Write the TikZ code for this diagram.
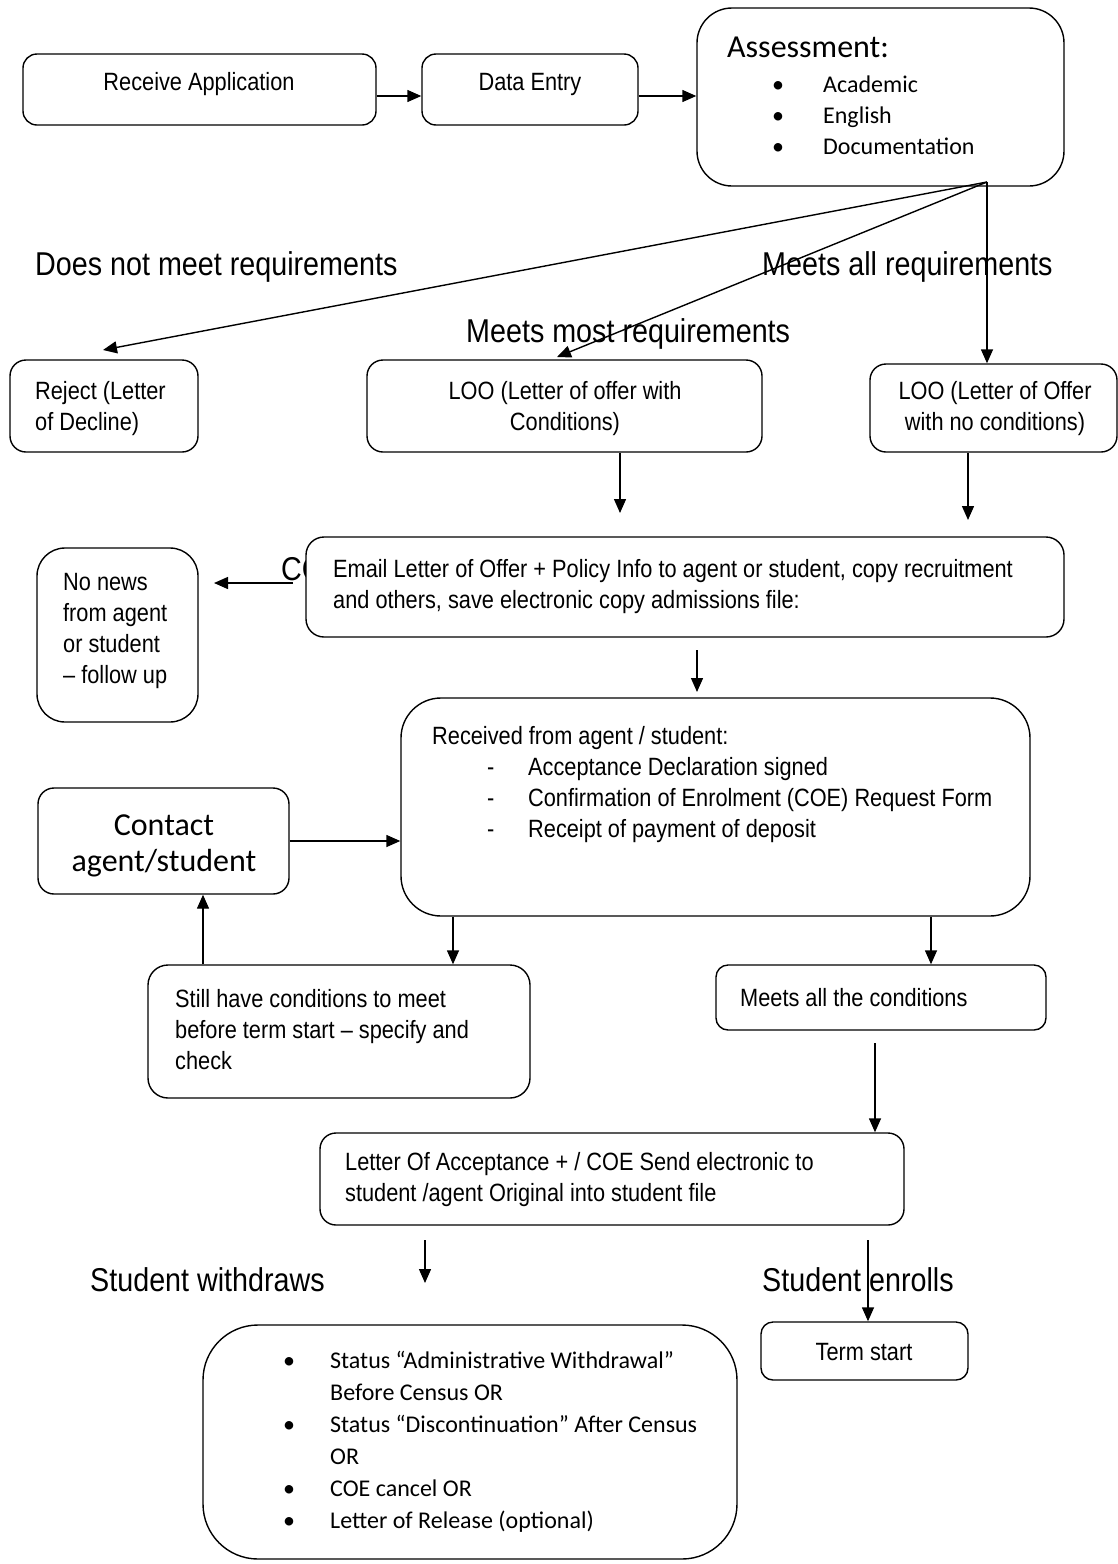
\documentclass[tikz,border=0pt]{standalone}
\usepackage{fontspec}
\setmainfont{Liberation Sans}
\newfontfamily\arialn[FakeStretch=0.87]{Liberation Sans}
\newfontfamily\calib{Carlito}
\usetikzlibrary{arrows.meta}
\newcommand\mybox[6]{\node[box, rounded corners=#6, minimum width={#4-#2}, minimum height={#5-#3}] (#1) at ({(#2+#4)/2},{(#3+#5)/2}) {};}
\begin{document}
\begin{tikzpicture}[x=1pt,y=-1pt,
  box/.style={draw, line width=1.4pt, fill=white, inner sep=0pt},
  arr/.style={line width=1.4pt, -{Triangle[length=14pt,width=12pt]}},
  bt/.style={font=\arialn\fontsize{25}{31}\selectfont, inner sep=0pt, align=left},
  btc/.style={font=\arialn\fontsize{25}{31}\selectfont, inner sep=0pt, align=center},
  lbl/.style={font=\arialn\fontsize{33}{38}\selectfont, inner sep=0pt, anchor=west},
  cal/.style={font=\calib\fontsize{24}{31}\selectfont, inner sep=0pt, align=left}
]
\useasboundingbox (0,0) rectangle (1118,1564);
\fill[white] (0,0) rectangle (1118,1564);

% labels drawn first (lines cross them)
\node[lbl] (l1) at (35,267) {Does not meet requirements};
\node[lbl] (l2) at (762,267) {Meets all requirements};
\node[lbl] (l3) at (466,334) {Meets most requirements};
\node[lbl] (l4) at (90,1280) {Student withdraws};
\node[lbl] (l5) at (762,1280) {Student enrolls};
\node[lbl] (cc) at (281,569) {CC};

% boxes
\mybox{rec}{23}{54}{376}{125}{14}
\mybox{data}{422}{54}{638}{125}{14}
\mybox{assess}{697}{8}{1064}{186}{35}
\mybox{reject}{10}{360}{198}{452}{16}
\mybox{looc}{367}{360}{762}{452}{16}
\mybox{loon}{870}{364}{1117}{452}{16}
\mybox{email}{306}{537}{1064}{637}{18}
\mybox{nonews}{37}{548}{198}{722}{28}
\mybox{recv}{401}{698}{1030}{916}{40}
\mybox{contact}{38}{788}{289}{894}{16}
\mybox{still}{148}{965}{530}{1098}{20}
\mybox{meets}{716}{965}{1046}{1030}{12}
\mybox{lettacc}{320}{1133}{904}{1225}{16}
\mybox{term}{761}{1322}{968}{1380}{12}
\mybox{withdraw}{203}{1325}{737}{1559}{55}

% texts
\node[btc] (trec) at (199,84) {Receive Application};
\node[btc] (tdata) at (530,84) {Data Entry};
\node[font=\calib\fontsize{32}{36}\selectfont, inner sep=0pt, anchor=west] (tassess) at (727,47) {Assessment:};
\node[cal, anchor=west] (tassl) at (772,115) {\makebox[51pt][l]{\textbullet}Academic\\\makebox[51pt][l]{\textbullet}English\\\makebox[51pt][l]{\textbullet}Documentation};
\node[bt, anchor=west] (treject) at (35,409) {Reject (Letter\\of Decline)};
\node[btc] (tlooc) at (565,409) {LOO (Letter of offer with\\Conditions)};
\node[btc] (tloon) at (995,409) {LOO (Letter of Offer\\with no conditions)};
\node[bt, anchor=west] (temail) at (333,587) {Email Letter of Offer + Policy Info to agent or student, copy recruitment\\and others, save electronic copy admissions file:};
\node[bt, anchor=west] (tnonews) at (63,631) {No news\\from agent\\or student\\– follow up};
\node[bt, anchor=west] (trecv) at (432,785) {Received from agent / student:\\\hspace*{55pt}\makebox[41pt][l]{-}Acceptance Declaration signed\\\hspace*{55pt}\makebox[41pt][l]{-}Confirmation of Enrolment (COE) Request Form\\\hspace*{55pt}\makebox[41pt][l]{-}Receipt of payment of deposit};
\node[font=\calib\fontsize{32}{36}\selectfont, inner sep=0pt, align=center] (tcontact) at (164,846) {Contact\\agent/student};
\node[bt, anchor=west] (tstill) at (175,1030) {Still have conditions to meet\\before term start – specify and\\check};
\node[bt, anchor=west] (tmeets) at (740,998) {Meets all the conditions};
\node[bt, anchor=west] (tlett) at (345,1180) {Letter Of Acceptance + / COE Send electronic to\\student /agent Original into student file};
\node[btc] (tterm) at (864,1352) {Term start};
\node[cal, anchor=west, font=\calib\fontsize{24}{32}\selectfont] (twd) at (283,1442) {\makebox[47pt][l]{\textbullet}Status “Administrative Withdrawal”\\\makebox[47pt][l]{}Before Census OR\\\makebox[47pt][l]{\textbullet}Status “Discontinuation” After Census\\\makebox[47pt][l]{}OR\\\makebox[47pt][l]{\textbullet}COE cancel OR\\\makebox[47pt][l]{\textbullet}Letter of Release (optional)};

% free-end coordinates
\coordinate (br) at (987,182);
\coordinate (rejtip) at (103,350);
\coordinate (loctip) at (557,357);
\coordinate (f1s) at (620,453);
\coordinate (f1e) at (620,513);
\coordinate (f2s) at (968,453);
\coordinate (f2e) at (968,520);
\coordinate (f3s) at (293,583);
\coordinate (f3e) at (214,583);
\coordinate (f4s) at (697,650);
\coordinate (f4e) at (697,692);
\coordinate (f5s) at (875,1043);
\coordinate (f6s) at (425,1240);
\coordinate (f6e) at (425,1283);
\coordinate (f7s) at (868,1240);

% connectors
\draw[arr] (rec.east |- 0,96) -- (data.west |- 0,96);
\draw[arr] (data.east |- 0,96) -- (assess.west |- 0,96);
\draw[arr] (br) -- (rejtip);
\draw[arr] (br) -- (loctip);
\draw[arr] (br) -- (br |- loon.north);
\draw[arr] (f1s) -- (f1e);
\draw[arr] (f2s) -- (f2e);
\draw[arr] (f3s) -- (f3e);
\draw[arr] (f4s) -- (f4e);
\draw[arr] (contact.east |- 0,841) -- (recv.west |- 0,841);
\draw[arr] (recv.south -| 453,0) -- (still.north -| 453,0);
\draw[arr] (recv.south -| 931,0) -- (meets.north -| 931,0);
\draw[arr] (still.north -| 203,0) -- (contact.south -| 203,0);
\draw[arr] (f5s) -- (f5s |- lettacc.north);
\draw[arr] (f6s) -- (f6e);
\draw[arr] (f7s) -- (f7s |- term.north);
\end{tikzpicture}
\end{document}
